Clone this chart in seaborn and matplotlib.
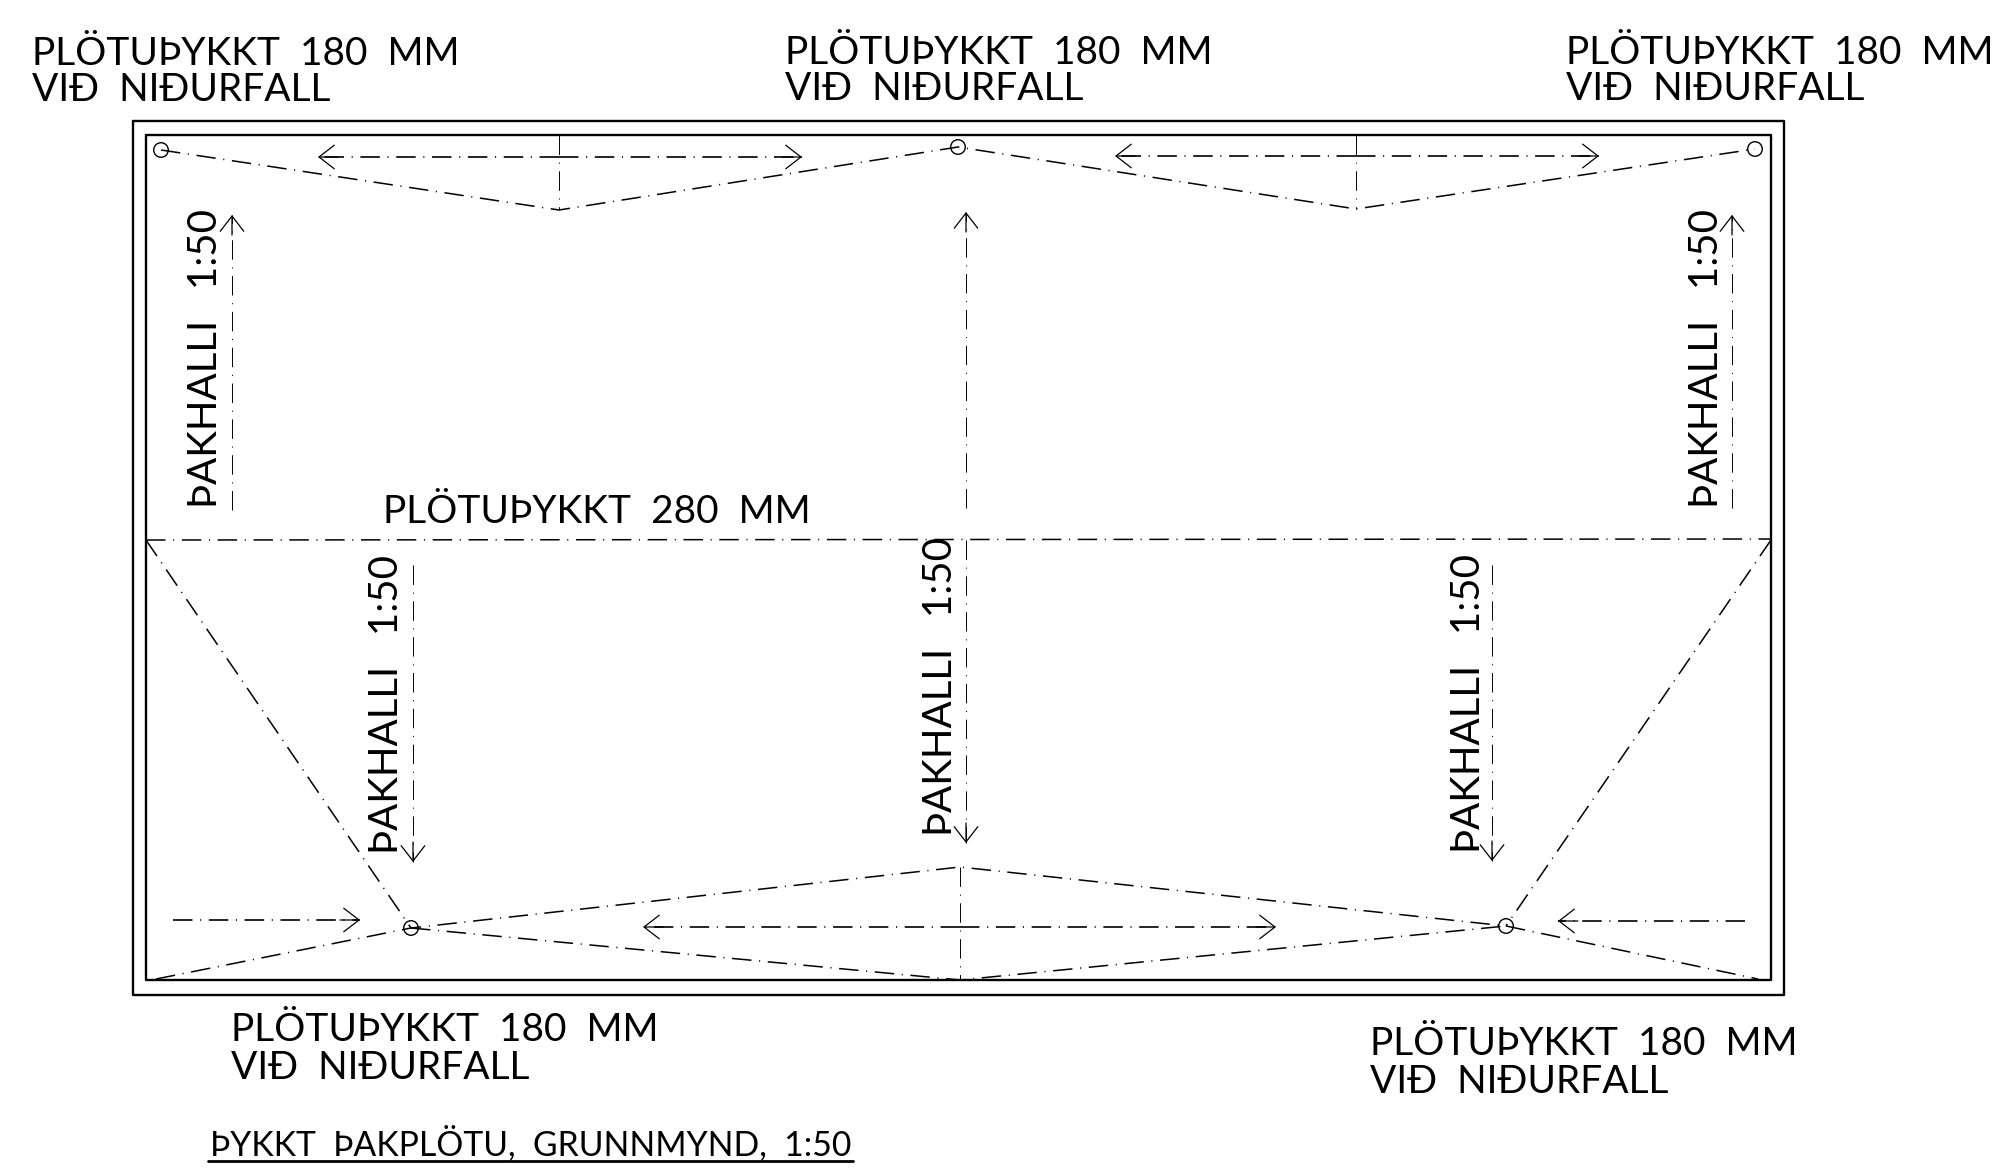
import matplotlib
matplotlib.use("Agg")
import matplotlib.pyplot as plt
import seaborn as sns

# everything is in image pixels, y going down
frame_outer_x = [133, 1784, 1784, 133, 133]
frame_outer_y = [121, 121, 995, 995, 121]
frame_inner_x = [146, 1771, 1771, 146, 146]
frame_inner_y = [135, 135, 980, 980, 135]

drain_x = [161, 958, 1755, 411, 1506]
drain_y = [150, 147, 149, 928, 926]

top_slope_x = [161, 559, 958, 1356, 1755]
top_slope_y = [150, 210, 147, 209, 149]
ridge_x = [146, 1771]
ridge_y = [540, 539]
left_diag_x = [146, 411]
left_diag_y = [540, 928]
right_diag_x = [1771, 1506]
right_diag_y = [540, 926]
bottom_upper_x = [156, 411, 960, 1506, 1758]
bottom_upper_y = [979, 928, 867, 926, 979]
bottom_lower_x = [411, 960, 1506]
bottom_lower_y = [928, 980, 926]

tick_x = [[559, 559], [1356, 1356], [960, 960]]
tick_y = [[135, 210], [135, 209], [867, 980]]

# arrows: tail -> tip
arrow_tail_x = [559, 559, 1356, 1356, 232, 966, 1732, 413, 966, 1492, 960, 960, 173, 1745]
arrow_tail_y = [157, 157, 156, 156, 510, 508, 508, 565, 540, 565, 927, 927, 920, 921]
arrow_tip_x = [318, 802, 1115, 1599, 232, 966, 1732, 413, 966, 1492, 643, 1276, 360, 1558]
arrow_tip_y = [157, 157, 156, 156, 215, 212, 215, 862, 843, 861, 927, 927, 920, 921]

note_labels = ["PLÖTUÞYKKT  180  MM", "VIÐ  NIÐURFALL"]
note_x = [32, 785, 1566, 231, 1370]
note_y = [[65, 101], [64, 100], [64, 100], [1041, 1079], [1055, 1093]]
thick_label = "PLÖTUÞYKKT  280  MM"
thick_pos = (383, 523)
slope_label = "ÞAKHALLI   1:50"
slope_x = [217, 1718, 398, 952, 1480]
slope_y = [508, 508, 854, 836, 853]
title_label = "ÞYKKT  ÞAKPLÖTU,  GRUNNMYND,  1:50"
title_pos = (210, 1155)
underline_x = [208, 853]
underline_y = [1161, 1161]

sns.set_theme(style="white")
plt.rcParams["font.family"] = ["Lato", "Liberation Sans", "DejaVu Sans"]
plt.rcParams["lines.scale_dashes"] = False

fig = plt.figure(figsize=(20.01, 11.73), dpi=100)
ax = fig.add_axes([0, 0, 1, 1])

DASHDOT = (0, (14, 5.5, 0.8, 5.5))

def line(xs, ys, lw=1.1, ls="-"):
    sns.lineplot(x=xs, y=ys, sort=False, estimator=None, color="black",
                 linewidth=lw, linestyle=ls, ax=ax, legend=False)

line(frame_outer_x, frame_outer_y, lw=1.7)
line(frame_inner_x, frame_inner_y, lw=1.7)

for xs, ys in [(top_slope_x, top_slope_y), (ridge_x, ridge_y),
               (left_diag_x, left_diag_y), (right_diag_x, right_diag_y),
               (bottom_upper_x, bottom_upper_y), (bottom_lower_x, bottom_lower_y)]:
    line(xs, ys, lw=1.1, ls=DASHDOT)

for xs, ys in zip(tick_x, tick_y):
    line(xs, ys, lw=0.7, ls=DASHDOT)

for x0, y0, x1, y1 in zip(arrow_tail_x, arrow_tail_y, arrow_tip_x, arrow_tip_y):
    lw = 1.2 if y0 == y1 else 0.7
    line([x0, x1], [y0, y1], lw=lw, ls=DASHDOT)
    # open head only, the shaft is the dash-dot line above
    dx = 1 if x1 > x0 else -1 if x1 < x0 else 0
    dy = 1 if y1 > y0 else -1 if y1 < y0 else 0
    ax.annotate("", xy=(x1, y1), xytext=(x1 - dx * 20, y1 - dy * 20),
                arrowprops=dict(arrowstyle="->,head_length=1.1,head_width=0.85",
                                mutation_scale=10, color="black", lw=0.9,
                                shrinkA=0, shrinkB=0))

sns.scatterplot(x=drain_x, y=drain_y, s=110, marker="o", facecolor="none",
                edgecolor="black", linewidth=1.0, ax=ax, legend=False)

FS = 28
for x, ys in zip(note_x, note_y):
    for lab, y in zip(note_labels, ys):
        ax.text(x, y, lab, fontsize=FS, color="black", ha="left", va="baseline")
ax.text(thick_pos[0], thick_pos[1], thick_label, fontsize=FS, color="black",
        ha="left", va="baseline")
for x, y in zip(slope_x, slope_y):
    ax.text(x, y, slope_label, fontsize=29, color="black", rotation=90,
            rotation_mode="anchor", ha="left", va="baseline")
ax.text(title_pos[0], title_pos[1], title_label, fontsize=24.3, color="black",
        ha="left", va="baseline")
line(underline_x, underline_y, lw=2.0)

ax.set_xlim(0, 2001)
ax.set_ylim(1173, 0)
ax.axis("off")
fig.savefig("out.png", dpi=100)
